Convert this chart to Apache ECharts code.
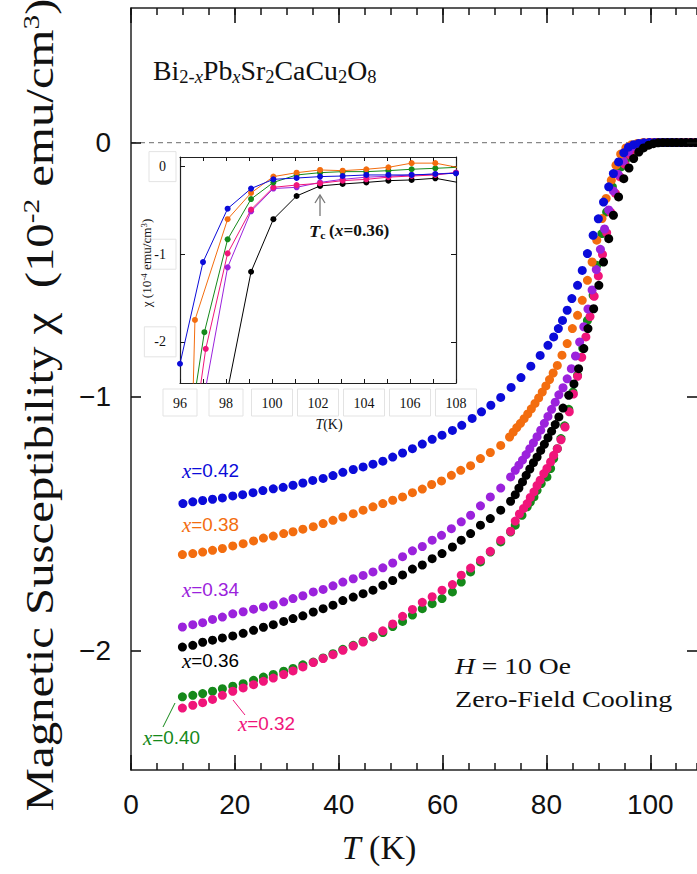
<!DOCTYPE html>
<html><head><meta charset="utf-8">
<script src="https://cdn.jsdelivr.net/npm/echarts@6/dist/echarts.min.js"></script>
<style>html,body{margin:0;padding:0;background:#fff}#c{width:697px;height:874px;background:#fff}</style>
</head><body><div id="c"></div>
<script>
// ---------- tick values ----------
const mainXTicks = [0, 20, 40, 60, 80, 100];
const mainYTicks = [0, -1, -2];
const insetXTicks = [96, 98, 100, 102, 104, 106, 108];
const insetYTicks = [0, -1, -2];

// ---------- main panel data: [T (K), chi (1e-2 emu/cm3)] ----------
const s042 = [[10,-1.421],[11.9,-1.414],[13.8,-1.409],[15.7,-1.404],[17.6,-1.399],[19.6,-1.391],[21.5,-1.386],[23.5,-1.378],[25.4,-1.370],[27.4,-1.363],[29.3,-1.357],[31.2,-1.349],[33.1,-1.340],[35.0,-1.330],[37.0,-1.322],[38.9,-1.311],[40.8,-1.298],[42.8,-1.287],[44.7,-1.277],[46.6,-1.266],[48.5,-1.254],[50.4,-1.238],[52.3,-1.222],[54.2,-1.205],[56.1,-1.187],[58.0,-1.168],[59.9,-1.152],[61.9,-1.133],[63.7,-1.113],[65.7,-1.086],[67.5,-1.060],[69.3,-1.034],[71.2,-1.003],[73.2,-0.964],[75.1,-0.925],[77.0,-0.880],[78.8,-0.838],[80.3,-0.798],[81.4,-0.765],[82.3,-0.732],[83.1,-0.700],[84.0,-0.660],[84.9,-0.614],[86.0,-0.562],[86.9,-0.503],[87.9,-0.437],[89.0,-0.365],[90.0,-0.300],[91.0,-0.234],[92.0,-0.174],[92.9,-0.122],[93.9,-0.076],[94.9,-0.040],[95.8,-0.018],[96.8,-0.008],[97.8,-0.003],[98.8,-0.001],[99.8,0],[100.8,0],[101.8,0],[102.8,0],[103.8,0],[104.8,0],[105.8,0],[106.8,0],[107.8,0],[108.8,0]];
const s038 = [[9.9,-1.622],[11.9,-1.618],[13.8,-1.612],[15.7,-1.605],[17.6,-1.598],[19.6,-1.588],[21.6,-1.579],[23.6,-1.568],[25.5,-1.557],[27.4,-1.549],[29.4,-1.539],[31.2,-1.532],[33.1,-1.522],[35.1,-1.512],[37.0,-1.500],[38.9,-1.487],[40.8,-1.474],[42.8,-1.461],[44.7,-1.447],[46.6,-1.434],[48.5,-1.421],[50.4,-1.408],[52.3,-1.395],[54.2,-1.378],[56.1,-1.364],[57.9,-1.346],[59.8,-1.332],[61.7,-1.310],[63.5,-1.290],[65.4,-1.272],[67.3,-1.244],[69.2,-1.220],[71.2,-1.192],[72.9,-1.159],[73.6,-1.140],[74.3,-1.122],[75.0,-1.105],[75.7,-1.087],[76.4,-1.068],[77.1,-1.048],[77.8,-1.027],[78.5,-1.005],[79.2,-0.982],[79.9,-0.958],[80.6,-0.933],[81.3,-0.907],[82.1,-0.877],[83.0,-0.837],[84.0,-0.791],[85.0,-0.732],[86.0,-0.680],[86.9,-0.621],[87.9,-0.542],[88.8,-0.470],[89.7,-0.384],[90.7,-0.299],[91.5,-0.220],[92.5,-0.148],[93.4,-0.089],[94.3,-0.045],[95.3,-0.021],[96.4,-0.008],[97.5,-0.003],[98.6,0],[99.6,0],[100.6,0],[101.6,0],[102.6,0],[103.6,0],[104.6,0],[105.6,0],[106.6,0],[107.6,0],[108.6,0]];
const s034 = [[9.9,-1.907],[11.9,-1.898],[13.8,-1.890],[15.7,-1.877],[17.6,-1.868],[19.6,-1.855],[21.6,-1.847],[23.6,-1.837],[25.5,-1.828],[27.4,-1.820],[29.4,-1.808],[31.2,-1.795],[33.1,-1.784],[35.1,-1.769],[37.0,-1.759],[38.9,-1.745],[40.8,-1.730],[42.8,-1.717],[44.7,-1.704],[46.6,-1.690],[48.5,-1.674],[50.4,-1.655],[52.3,-1.630],[54.2,-1.607],[56.1,-1.590],[58.0,-1.565],[59.8,-1.546],[61.7,-1.520],[63.6,-1.493],[65.4,-1.467],[67.3,-1.430],[69.2,-1.395],[71.2,-1.360],[73.1,-1.316],[74.0,-1.290],[74.7,-1.270],[75.4,-1.250],[76.1,-1.228],[76.8,-1.205],[77.5,-1.182],[78.2,-1.158],[78.9,-1.132],[79.6,-1.105],[80.3,-1.078],[81.0,-1.050],[81.7,-1.022],[82.4,-0.993],[83.2,-0.965],[84.0,-0.930],[84.8,-0.890],[85.6,-0.840],[86.4,-0.785],[87.2,-0.725],[88.0,-0.655],[88.8,-0.580],[89.6,-0.500],[90.4,-0.420],[91.2,-0.340],[92.0,-0.265],[92.9,-0.190],[93.8,-0.125],[94.8,-0.072],[95.8,-0.036],[96.8,-0.016],[97.8,-0.006],[98.8,-0.002],[99.8,0],[100.8,0],[101.8,0],[102.8,0],[103.8,0],[104.8,0],[105.8,0],[106.8,0],[107.8,0],[108.8,0]];
const s036 = [[9.9,-1.986],[11.9,-1.979],[13.8,-1.967],[15.7,-1.959],[17.6,-1.950],[19.6,-1.942],[21.6,-1.932],[23.6,-1.920],[25.5,-1.908],[27.4,-1.898],[29.4,-1.885],[31.2,-1.874],[33.1,-1.863],[35.1,-1.848],[37.0,-1.835],[38.9,-1.821],[40.8,-1.803],[42.8,-1.789],[44.7,-1.776],[46.6,-1.762],[48.5,-1.743],[50.4,-1.724],[52.3,-1.702],[54.2,-1.679],[56.1,-1.663],[58.0,-1.638],[59.9,-1.618],[61.9,-1.592],[63.6,-1.565],[65.4,-1.539],[67.3,-1.506],[69.2,-1.480],[71.2,-1.447],[73.1,-1.412],[74.0,-1.386],[74.7,-1.360],[75.4,-1.336],[76.1,-1.310],[76.8,-1.285],[77.5,-1.260],[78.2,-1.238],[78.9,-1.212],[79.6,-1.188],[80.3,-1.162],[81.0,-1.136],[81.7,-1.110],[82.4,-1.080],[83.2,-1.045],[84.3,-0.995],[85.3,-0.950],[86.2,-0.890],[87.2,-0.811],[88.0,-0.732],[89.1,-0.654],[90.1,-0.562],[91.0,-0.470],[92.0,-0.378],[92.9,-0.286],[93.9,-0.214],[94.9,-0.142],[95.9,-0.100],[96.8,-0.063],[97.8,-0.037],[98.7,-0.021],[99.7,-0.010],[100.6,-0.004],[101.5,-0.001],[102.4,0],[103.3,0],[104.2,0],[105.1,0],[106.0,0],[106.9,0],[107.8,0],[108.7,0]];
const s040 = [[9.9,-2.182],[11.9,-2.176],[13.8,-2.169],[15.7,-2.160],[17.6,-2.150],[19.6,-2.140],[21.6,-2.130],[23.6,-2.117],[25.5,-2.104],[27.4,-2.094],[29.4,-2.081],[31.2,-2.070],[33.1,-2.056],[35.1,-2.045],[37.0,-2.029],[38.9,-2.012],[40.8,-1.995],[42.8,-1.979],[44.7,-1.963],[46.6,-1.946],[48.5,-1.929],[50.4,-1.905],[52.3,-1.885],[54.2,-1.860],[56.1,-1.835],[58.0,-1.815],[59.9,-1.795],[61.9,-1.769],[63.6,-1.730],[65.4,-1.690],[67.3,-1.651],[69.2,-1.612],[71.2,-1.572],[73.1,-1.533],[74.0,-1.506],[75.3,-1.467],[76.3,-1.434],[76.9,-1.415],[77.6,-1.395],[78.2,-1.369],[79.0,-1.342],[80.1,-1.316],[80.8,-1.283],[81.4,-1.244],[82.1,-1.205],[82.8,-1.165],[83.5,-1.115],[84.3,-1.050],[85.1,-0.982],[86.0,-0.916],[87.0,-0.810],[87.9,-0.700],[89.0,-0.601],[89.7,-0.483],[90.7,-0.358],[91.6,-0.273],[92.7,-0.174],[93.6,-0.122],[94.4,-0.095],[95.2,-0.070],[96.5,-0.037],[97.8,-0.017],[98.8,-0.006],[99.8,-0.001],[100.8,0],[101.8,0],[102.8,0],[103.8,0],[104.8,0],[105.8,0],[106.8,0],[107.8,0],[108.8,0]];
const s032 = [[9.9,-2.226],[11.9,-2.215],[13.8,-2.205],[15.7,-2.192],[17.6,-2.176],[19.6,-2.160],[21.6,-2.147],[23.6,-2.134],[25.5,-2.121],[27.4,-2.108],[29.4,-2.094],[31.2,-2.080],[33.1,-2.064],[35.1,-2.047],[37.0,-2.031],[38.9,-2.016],[40.8,-1.999],[42.8,-1.982],[44.7,-1.966],[46.6,-1.945],[48.5,-1.922],[50.4,-1.895],[52.3,-1.865],[54.2,-1.838],[56.1,-1.810],[58.0,-1.788],[59.9,-1.762],[61.9,-1.740],[63.6,-1.703],[65.4,-1.675],[67.3,-1.644],[69.2,-1.609],[71.2,-1.565],[73.1,-1.530],[74.0,-1.490],[74.8,-1.462],[75.6,-1.440],[76.3,-1.421],[76.9,-1.397],[77.6,-1.375],[78.2,-1.350],[78.8,-1.329],[79.5,-1.303],[80.1,-1.283],[80.8,-1.257],[81.4,-1.231],[82.1,-1.205],[82.8,-1.170],[83.6,-1.120],[84.4,-1.060],[85.2,-0.990],[86.0,-0.920],[86.8,-0.845],[87.6,-0.765],[88.4,-0.685],[89.2,-0.605],[90.0,-0.525],[90.8,-0.440],[91.6,-0.355],[92.4,-0.275],[93.3,-0.200],[94.2,-0.135],[95.1,-0.085],[96.1,-0.048],[97.1,-0.022],[98.1,-0.008],[99.1,-0.002],[100.1,0],[101.1,0],[102.1,0],[103.1,0],[104.1,0],[105.1,0],[106.1,0],[107.1,0],[108.1,0]];

// ---------- inset data: [T (K), chi (1e-4 emu/cm3)] ----------
const in042 = [[96.0,-2.25],[97.0,-1.09],[98.07,-0.48],[99.09,-0.25],[100.06,-0.145],[101.07,-0.13],[102.09,-0.114],[103.07,-0.107],[104.1,-0.095],[105.06,-0.095],[106.07,-0.095],[107.1,-0.084],[108.0,-0.076]];
const in038 = [[96.43,-4.0],[96.65,-1.75],[98.07,-0.60],[99.09,-0.30],[100.06,-0.114],[101.07,-0.069],[102.09,-0.038],[103.07,-0.046],[104.1,-0.030],[105.06,-0.008],[106.07,0.04],[107.1,0.04],[108.3,-0.02]];
const in040 = [[95.82,-4.0],[97.06,-1.89],[98.07,-0.83],[99.09,-0.37],[100.06,-0.18],[101.07,-0.095],[102.09,-0.069],[103.07,-0.057],[104.1,-0.057],[105.06,-0.046],[106.07,-0.03],[107.1,-0.019],[108.3,-0.005]];
const in032 = [[96.08,-4.0],[97.12,-2.08],[98.07,-0.99],[99.09,-0.49],[100.06,-0.236],[101.07,-0.21],[102.09,-0.19],[103.07,-0.16],[104.1,-0.145],[105.06,-0.12],[106.07,-0.107],[107.1,-0.095],[108.0,-0.069]];
const in034 = [[97.1,-2.55],[98.07,-1.15],[99.09,-0.51],[100.06,-0.25],[101.07,-0.236],[102.09,-0.18],[103.07,-0.145],[104.1,-0.12],[105.06,-0.11],[106.07,-0.095],[107.1,-0.085],[108.0,-0.069]];
const in036 = [[98.07,-2.55],[99.09,-1.2],[100.06,-0.60],[101.07,-0.335],[102.09,-0.22],[103.07,-0.198],[104.1,-0.18],[105.06,-0.16],[106.07,-0.152],[107.1,-0.133],[108.5,-0.2]];

const zeroLine = [[0,0],[109,0]];

const COL = {p032:'#f0157a', p040:'#15891a', p034:'#9b22dc', p038:'#f36d0f', p042:'#0b0bd9', p036:'#000000'};

const chart = echarts.init(document.getElementById('c'), null, {renderer:'svg'});

function line(show, w){ return {show:show, onZero:false, lineStyle:{color:'#222222', width:w}}; }
function tick(len, vals, w){
  const t = {show:true, inside:true, length:len, lineStyle:{color:'#141414', width:w}};
  if (vals) t.customValues = vals;
  return t;
}
function mainX(pos, major, labels){
  const a = {gridIndex:0, type:'value', position:pos, min:0, max:109, z:3,
    axisLine: line(!major, 1.5),
    axisTick: major ? tick(15, mainXTicks, 1.6) : tick(7, null, 1.5),
    axisLabel: labels ? {show:true, customValues:mainXTicks, margin:20, fontSize:28, color:'#111', fontFamily:'Liberation Sans'} : {show:false},
    splitLine:{show:false}};
  if (!major) a.interval = 5;
  return a;
}

const option = {
  animation:false,
  grid:[
    {left:131, top:8, right:0, bottom:104, outerBoundsMode:'none'},
    {left:180, top:157, width:276, height:226, outerBoundsMode:'none'}
  ],
  xAxis:[
    Object.assign(mainX('bottom', false, true), {
      name:'{i|T} (K)', nameLocation:'middle', nameGap:60,
      nameTextStyle:{fontFamily:'Liberation Serif', fontSize:34, color:'#111', padding:[0,70,0,0],
        rich:{i:{fontStyle:'italic', fontFamily:'Liberation Serif', fontSize:34, color:'#111'}}}
    }),
    mainX('bottom', true, false),
    mainX('top', false, false),
    mainX('top', true, false),
    {gridIndex:1, type:'value', position:'bottom', min:96, max:108, interval:1,
      axisLine:line(true, 1.2),
      axisTick:tick(4, null, 1),
      axisLabel:{show:true, customValues:insetXTicks, margin:6, fontSize:14, color:'#111', fontFamily:'Liberation Serif',
        borderColor:'#e3e3e3', borderWidth:1, padding:[7,10,6,10]},
      splitLine:{show:false},
      name:'{i|T}(K)', nameLocation:'middle', nameGap:34,
      nameTextStyle:{fontFamily:'Liberation Serif', fontSize:14, color:'#111', padding:[0,0,0,22],
        rich:{i:{fontStyle:'italic', fontFamily:'Liberation Serif', fontSize:14, color:'#111'}}}
    },
    {gridIndex:1, type:'value', position:'top', min:96, max:108, interval:1,
      axisLine:line(true, 1.2),
      axisTick:tick(4, null, 1),
      axisLabel:{show:false}, splitLine:{show:false}}
  ],
  yAxis:[
    {gridIndex:0, type:'value', position:'left', min:-2.47, max:0.53, z:3,
      axisLine:line(true, 1.5),
      axisTick:tick(10, mainYTicks, 1.6),
      axisLabel:{show:true, customValues:mainYTicks, margin:20, fontSize:28, color:'#111', fontFamily:'Liberation Sans',
        formatter:v => v < 0 ? '\u2212' + Math.abs(v) : String(v)},
      splitLine:{show:false}},
    {gridIndex:0, type:'value', position:'right', min:-2.47, max:0.53, z:3,
      axisLine:line(false, 1.5),
      axisTick:tick(10, mainYTicks, 1.6),
      axisLabel:{show:false}, splitLine:{show:false}},
    {gridIndex:1, type:'value', position:'left', min:-2.47, max:0.11,
      axisLine:line(true, 1.2),
      axisTick:tick(5, insetYTicks, 1),
      axisLabel:{show:true, customValues:insetYTicks, margin:4, fontSize:14, color:'#111', fontFamily:'Liberation Serif',
        borderColor:'#e3e3e3', borderWidth:1, padding:[8,10,8,10], formatter:v => String(v)},
      splitLine:{show:false}},
    {gridIndex:1, type:'value', position:'right', min:-2.47, max:0.11,
      axisLine:line(true, 1.2),
      axisTick:tick(5, insetYTicks, 1),
      axisLabel:{show:false}, splitLine:{show:false}}
  ],
  series:[
    {type:'line', xAxisIndex:0, yAxisIndex:0, data:zeroLine, symbol:'none', silent:true, z:1,
      lineStyle:{color:'#888', width:1.2, type:[5,4]}},
    ...[['p040',s040],['p032',s032],['p034',s034],['p038',s038],['p042',s042],['p036',s036]].map(([k,d]) => ({
      type:'scatter', xAxisIndex:0, yAxisIndex:0, data:d, symbol:'circle', symbolSize:9,
      itemStyle:{color:COL[k], opacity:1}, z:2})),
    ...[['p036',in036],['p034',in034],['p032',in032],['p040',in040],['p038',in038],['p042',in042]].map(([k,d]) => ({
      type:'line', xAxisIndex:4, yAxisIndex:2, data:d, symbol:'circle', symbolSize:6, showSymbol:true, clip:true,
      lineStyle:{color:COL[k], width:1}, itemStyle:{color:COL[k]}, z:10}))
  ],
  graphic:[
    {type:'text', x:40, y:405, rotation:Math.PI/2, scaleX:1.22, z:20, style:{
      text:'Magnetic Susceptibility \u03c7  (10{sup|-2} emu/cm{sup|3})',
      font:'40px "Liberation Serif"', fill:'#111', align:'center', verticalAlign:'middle',
      rich:{sup:{font:'24px "Liberation Serif"', fill:'#111', verticalAlign:'top', padding:[0,0,18,0]}}}},
    {type:'text', x:147, y:263, rotation:Math.PI/2, scaleX:1.1, z:20, style:{
      text:'\u03c7 (10{sup|-4} emu/cm{sup|3})',
      font:'12px "Liberation Serif"', fill:'#111', align:'center', verticalAlign:'middle',
      rich:{sup:{font:'8px "Liberation Serif"', fill:'#111', verticalAlign:'top', padding:[0,0,5,0]}}}},
    {type:'text', x:153, y:71, scaleX:1.03, z:20, style:{
      text:'Bi{s|2-}{si|x}Pb{si|x}Sr{s|2}CaCu{s|2}O{s|8}',
      font:'27px "Liberation Serif"', fill:'#111', verticalAlign:'middle',
      rich:{s:{font:'18px "Liberation Serif"', fill:'#111', verticalAlign:'bottom', padding:[12,0,0,0]},
            si:{font:'italic 18px "Liberation Serif"', fill:'#111', verticalAlign:'bottom', padding:[12,0,0,0]}}}},
    {type:'text', x:455, y:666, scaleX:1.2, z:20, style:{text:'{i|H} = 10 Oe', font:'23px "Liberation Serif"', fill:'#111', verticalAlign:'middle',
      rich:{i:{font:'italic 23px "Liberation Serif"', fill:'#111'}}}},
    {type:'text', x:455, y:699, scaleX:1.22, z:20, style:{text:'Zero-Field Cooling', font:'23px "Liberation Serif"', fill:'#111', verticalAlign:'middle'}},
    ...[['x=0.42',182,471,'p042'],['x=0.38',182,525,'p038'],['x=0.34',182,590,'p034'],['x=0.36',182,661,'p036'],['x=0.40',143,738,'p040'],['x=0.32',238,724,'p032']]
      .map(([t,x,y,k]) => ({type:'text', x:x, y:y, scaleX:1.05, z:20, style:{
        text:'{i|x}{n|' + t.slice(1) + '}', fill:COL[k], verticalAlign:'middle',
        rich:{i:{font:'italic 20px "Liberation Serif"', fill:COL[k]}, n:{font:'18px "Liberation Sans"', fill:COL[k]}}}})),
    {type:'line', z:20, shape:{x1:163, y1:727, x2:175, y2:703}, style:{stroke:COL.p040, lineWidth:1}},
    {type:'line', z:20, shape:{x1:233, y1:700, x2:245, y2:715}, style:{stroke:COL.p032, lineWidth:1}},
    {type:'line', z:20, shape:{x1:320, y1:196, x2:320, y2:216}, style:{stroke:'#777', lineWidth:1.3}},
    {type:'polyline', z:20, shape:{points:[[315,203],[320,195],[325,203]]}, style:{stroke:'#777', lineWidth:1.3, fill:null}},
    {type:'text', x:309, y:231, scaleX:1.08, z:20, style:{
      text:'{t|T}{c|c} {b|(}{x|x}{b|=0.36)}', fill:'#111', verticalAlign:'middle',
      rich:{t:{font:'italic bold 17px "Liberation Serif"', fill:'#111'},
            c:{font:'bold 11px "Liberation Serif"', fill:'#111', verticalAlign:'bottom', padding:[8,0,0,0]},
            b:{font:'bold 16px "Liberation Serif"', fill:'#111'},
            x:{font:'italic bold 16px "Liberation Serif"', fill:'#111'}}}}
  ]
};
chart.setOption(option);
</script>
</body></html>
